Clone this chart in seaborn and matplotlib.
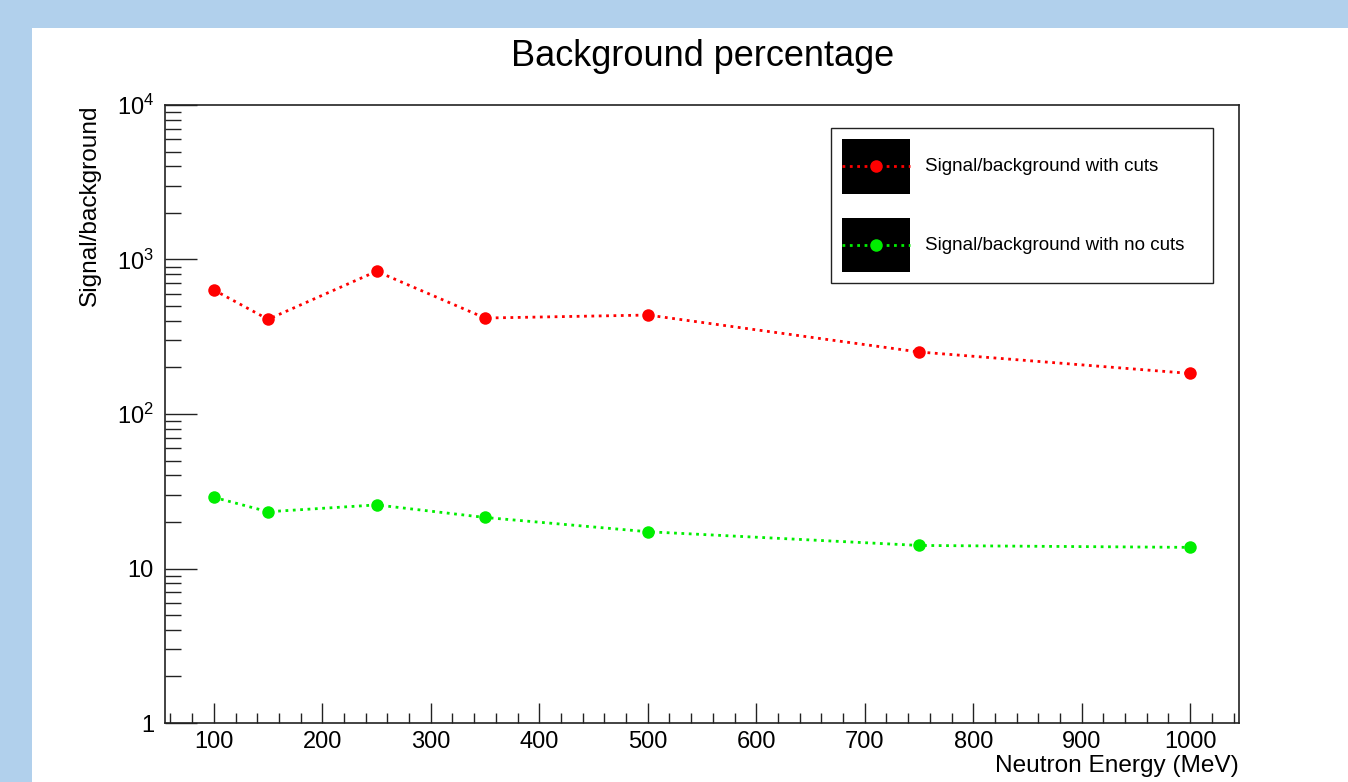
import matplotlib
matplotlib.use("Agg")
import matplotlib.pyplot as plt
import seaborn as sns
import numpy as np
import pandas as pd
from matplotlib.patches import Rectangle
from matplotlib.lines import Line2D
from matplotlib.legend_handler import HandlerTuple, HandlerLine2D
from matplotlib.ticker import MultipleLocator, LogLocator, FixedLocator, FixedFormatter, NullFormatter

# ---- data ----
energy = [100, 150, 250, 350, 500, 750, 1000]
sb_with_cuts = [635, 410, 839, 418, 437, 252, 183]
sb_no_cuts = [28.9, 23.3, 25.8, 21.4, 17.3, 14.1, 13.7]
series_labels = ["Signal/background with cuts", "Signal/background with no cuts"]
y_tick_values = [1, 10, 100, 1000, 10000]
y_tick_labels = ["1", "10", "$10^{2}$", "$10^{3}$", "$10^{4}$"]
title = "Background percentage"
xlabel = "Neutron Energy (MeV)"
ylabel = "Signal/background"

sns.set_theme(style="white")
plt.rcParams['font.family'] = ['Liberation Sans', 'DejaVu Sans']
plt.rcParams['mathtext.fontset'] = 'custom'
plt.rcParams['mathtext.rm'] = 'Liberation Sans'
plt.rcParams['mathtext.it'] = 'Liberation Sans'
plt.rcParams['text.color'] = 'black'
plt.rcParams['axes.labelcolor'] = 'black'


class CenteredLine(HandlerLine2D):
    def create_artists(self, legend, orig_handle, xdescent, ydescent, width, height, fontsize, trans):
        return super().create_artists(legend, orig_handle, xdescent, 2 * ydescent, width, height,
                                      fontsize, trans)


W, H = 1348, 782
fig = plt.figure(figsize=(W / 100, H / 100), dpi=100)
fig.patch.set_facecolor('#b1d0ec')
fig.patches.append(Rectangle((32 / W, 0), 1 - 32 / W, 1 - 28 / H, transform=fig.transFigure,
                             facecolor='white', edgecolor='none', zorder=-10))

ax = fig.add_axes([165 / W, 1 - 723 / H, 1074 / W, 618 / H])
ax.set_facecolor('white')

df = pd.DataFrame({"energy": energy, "cuts": sb_with_cuts, "nocuts": sb_no_cuts})
red = '#ff0000'
green = '#00ee00'
sns.lineplot(data=df, x="energy", y="cuts", ax=ax, color=red, marker='o', markersize=9,
             markeredgewidth=0, linestyle=':', linewidth=2.0, legend=False)
sns.lineplot(data=df, x="energy", y="nocuts", ax=ax, color=green, marker='o', markersize=9,
             markeredgewidth=0, linestyle=':', linewidth=2.0, legend=False)

ax.set_yscale('log')
ax.set_ylim(1, 10000)
ax.set_xlim(55, 1045)

ax.yaxis.set_major_locator(FixedLocator(y_tick_values))
ax.yaxis.set_major_formatter(FixedFormatter(y_tick_labels))
ax.yaxis.set_minor_locator(LogLocator(base=10, subs=np.arange(2, 10)))
ax.yaxis.set_minor_formatter(NullFormatter())
ax.xaxis.set_major_locator(MultipleLocator(100))
ax.xaxis.set_minor_locator(MultipleLocator(20))

ax.tick_params(axis='y', which='major', direction='in', length=23, width=1, color='#222222',
               left=True, right=False, labelsize=17, pad=8, labelcolor='black')
ax.tick_params(axis='y', which='minor', direction='in', length=11.5, width=1, color='#222222',
               left=True, right=False)
ax.tick_params(axis='x', which='major', direction='in', length=14.4, width=1, color='#222222',
               bottom=True, top=False, labelsize=17, pad=6, labelcolor='black')
ax.tick_params(axis='x', which='minor', direction='in', length=7.2, width=1, color='#222222',
               bottom=True, top=False)

for s in ax.spines.values():
    s.set_visible(True)
    s.set_color('#222222')
    s.set_linewidth(1.2)

ax.set_xlabel(xlabel, fontsize=17.6, loc='right')
ax.xaxis.set_label_coords(1.0, -0.052)
ax.set_ylabel(ylabel, fontsize=17.6, loc='top')
ax.yaxis.set_label_coords(-0.06, 1.0)

fig.text(703 / W, 1 - 56 / H, title, fontsize=26, ha='center', va='center')

handles = [
    (Rectangle((0, 0), 1, 1, facecolor='black', edgecolor='none'),
     Line2D([], [], color=red, linestyle=':', linewidth=2.0, marker='o', markersize=9, markeredgewidth=0)),
    (Rectangle((0, 0), 1, 1, facecolor='black', edgecolor='none'),
     Line2D([], [], color=green, linestyle=':', linewidth=2.0, marker='o', markersize=9, markeredgewidth=0)),
]
lx0 = (831 - 165) / 1074
lx1 = (1213 - 165) / 1074
ly1 = 1 - (128 - 105) / 618
ly0 = 1 - (283 - 105) / 618
leg = ax.legend(handles, series_labels,
                handler_map={tuple: HandlerTuple(ndivide=1, pad=0), Line2D: CenteredLine()},
                loc='upper left', bbox_to_anchor=(lx0, ly0, lx1 - lx0, ly1 - ly0), mode='expand',
                borderaxespad=0, fontsize=13.5, handlelength=3.6, handleheight=4.08,
                labelspacing=1.28, borderpad=0.6, handletextpad=0.8, frameon=True, fancybox=False,
                framealpha=1, edgecolor='#222222')
leg.get_frame().set_linewidth(1.0)

fig.savefig('out.png', dpi=100, facecolor=fig.get_facecolor())
